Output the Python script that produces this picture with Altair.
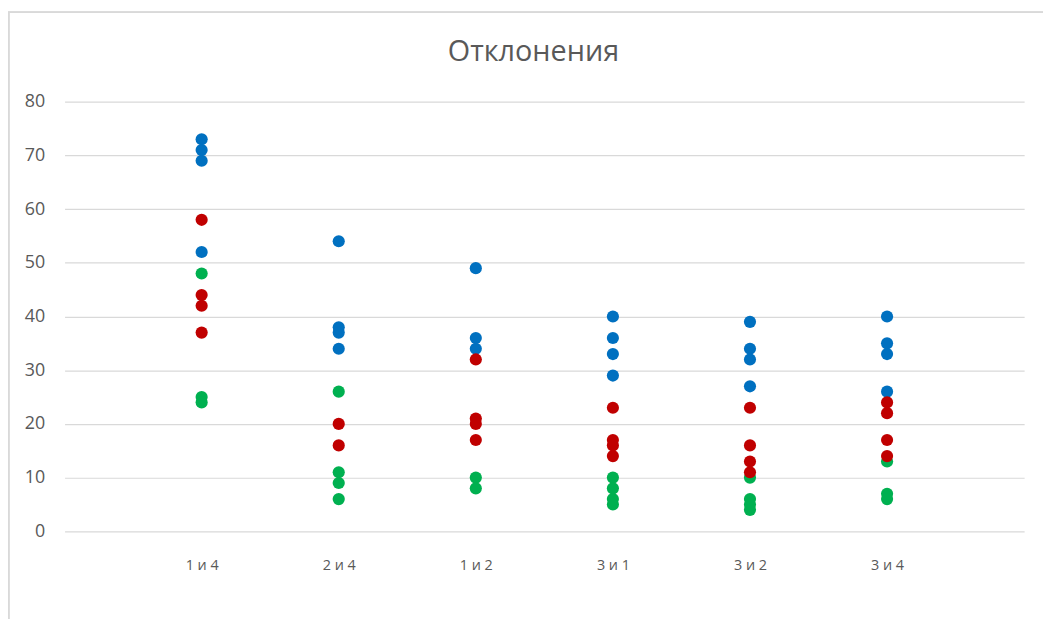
import altair as alt
import pandas as pd

categories = ["1 и 4", "2 и 4", "1 и 2", "3 и 1", "3 и 2", "3 и 4"]

blue_values = [
    [73, 71, 69, 52],
    [54, 38, 37, 34],
    [49, 36, 34],
    [40, 36, 33, 29],
    [39, 34, 32, 27],
    [40, 35, 33, 26],
]
green_values = [
    [48, 25, 24],
    [26, 11, 9, 6],
    [10, 8],
    [10, 8, 6, 5],
    [10, 6, 5, 4],
    [13, 7, 6],
]
red_values = [
    [58, 44, 42, 37],
    [20, 16],
    [32, 21, 20, 17],
    [23, 17, 16, 14],
    [23, 16, 13, 11],
    [24, 22, 17, 14],
]

series_names = ["Ряд1", "Ряд3", "Ряд2"]
series_colors = ["#0070C0", "#00B050", "#C00000"]
series_data = [blue_values, green_values, red_values]

rows = []
for order, (name, vals) in enumerate(zip(series_names, series_data)):
    for cat, lst in zip(categories, vals):
        for v in lst:
            rows.append({"pair": cat, "value": v, "series": name, "order": order})
df = pd.DataFrame(rows)

W, H = 967, 433
PAD_L, PAD_T = 57, 92

points = alt.Chart(df).mark_circle(size=150, opacity=1).encode(
    x=alt.X(
        "pair:N",
        sort=categories,
        scale=alt.Scale(type="point", padding=1),
        axis=alt.Axis(
            title=None, labelAngle=0, domain=False, ticks=False, grid=False,
            labelFont="Open Sans", labelFontSize=14.5, labelColor="#595959",
            labelPadding=27,
        ),
    ),
    y=alt.Y(
        "value:Q",
        scale=alt.Scale(domain=[0, 80], nice=False),
        axis=alt.Axis(
            title=None, values=[0, 10, 20, 30, 40, 50, 60, 70, 80],
            domain=False, ticks=False, grid=True, gridColor="#D9D9D9",
            gridWidth=1.2, labelFont="Open Sans", labelFontSize=18,
            labelColor="#595959", labelPadding=20,
        ),
    ),
    color=alt.Color(
        "series:N",
        scale=alt.Scale(domain=series_names, range=series_colors),
        legend=None,
    ),
    order=alt.Order("order:Q"),
)

frame = alt.Chart(df).mark_rect(fill=None, stroke="#D9D9D9", strokeWidth=1.2).encode(
    x=alt.value(-56.5), x2=alt.value(1000), y=alt.value(-90), y2=alt.value(700)
)

chart = alt.layer(frame, points).properties(
    width=W,
    height=H,
    autosize=alt.AutoSizeParams(type="none"),
    padding={"left": PAD_L, "top": PAD_T, "right": 19, "bottom": 86},
    title=alt.TitleParams(
        "Отклонения", font="Open Sans", fontSize=29, fontWeight="normal",
        color="#595959", anchor="middle", dx=-11, offset=-56,
    ),
).configure_view(stroke=None)

chart.save("out.html", embed_options={"renderer": "svg", "actions": False})
